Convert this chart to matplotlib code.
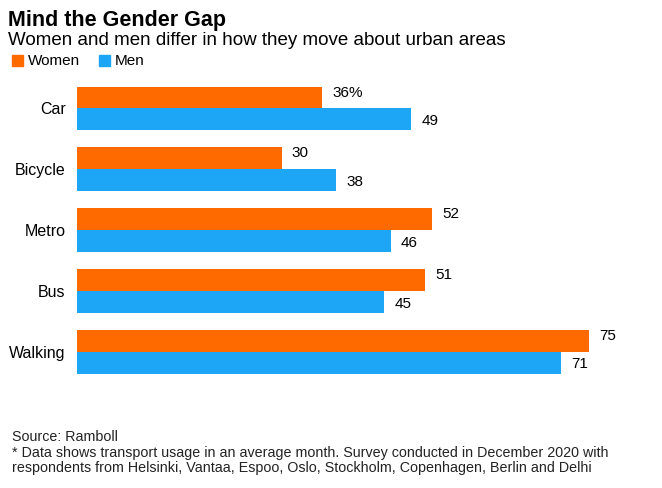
import matplotlib.pyplot as plt
import numpy as np

plt.rcParams['font.family'] = ['Liberation Sans', 'DejaVu Sans']

modes = ["Car", "Bicycle", "Metro", "Bus", "Walking"]
women = [36, 30, 52, 51, 75]
men = [49, 38, 46, 45, 71]
women_labels = ["36%", "30", "52", "51", "75"]
men_labels = ["49", "38", "46", "45", "71"]

orange = "#FF6A00"
blue = "#1DA6F5"

fig = plt.figure(figsize=(6.62, 4.88), dpi=100)
ax = fig.add_axes([0.116, 0.217, 0.866, 0.623])

y = np.arange(len(modes))
h = 0.36
ax.barh(y - h / 2, women, height=h, color=orange)
ax.barh(y + h / 2, men, height=h, color=blue)
for i in range(len(modes)):
    ax.text(women[i] + 1.5, y[i] - h / 2 - 0.08, women_labels[i], va="center", fontsize=11)
    ax.text(men[i] + 1.5, y[i] + h / 2 + 0.03, men_labels[i], va="center", fontsize=11)

ax.set_yticks(y)
ax.set_yticklabels(modes, fontsize=11.5)
ax.tick_params(axis="y", length=0, pad=8)
ax.set_xticks([])
ax.set_xlim(0, 84)
ax.set_ylim(4.5, -0.5)
for s in ax.spines.values():
    s.set_visible(False)

fig.text(0.012, 0.98, "Mind the Gender Gap", fontsize=15.5, fontweight="bold", va="top")
fig.text(0.012, 0.935, "Women and men differ in how they move about urban areas", fontsize=13.5, va="top")

fig.patches.append(plt.Rectangle((0.018, 0.865), 0.016, 0.022, color=orange, transform=fig.transFigure))
fig.text(0.042, 0.876, "Women", fontsize=11, va="center")
fig.patches.append(plt.Rectangle((0.150, 0.865), 0.016, 0.022, color=blue, transform=fig.transFigure))
fig.text(0.174, 0.876, "Men", fontsize=11, va="center")

fig.text(0.018, 0.105, "Source: Ramboll", fontsize=10.3, va="center", color="#222222")
fig.text(0.018, 0.072, "* Data shows transport usage in an average month. Survey conducted in December 2020 with",
         fontsize=10.3, va="center", color="#222222")
fig.text(0.018, 0.041, "respondents from Helsinki, Vantaa, Espoo, Oslo, Stockholm, Copenhagen, Berlin and Delhi",
         fontsize=10.3, va="center", color="#222222")

fig.savefig("out.png", dpi=100)
